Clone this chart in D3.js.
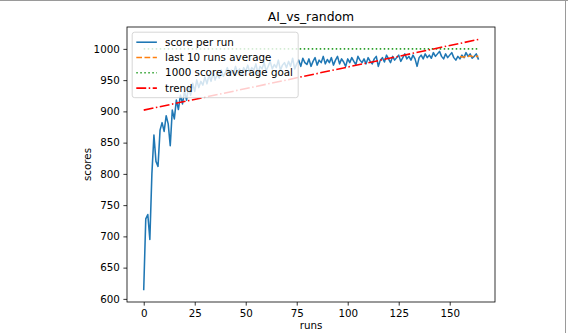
<!DOCTYPE html>
<html>
<head>
<meta charset="utf-8">
<script src="https://cdn.jsdelivr.net/npm/d3@7/dist/d3.min.js"></script>
<style>
  html, body { margin: 0; padding: 0; background: #fff; }
  svg { display: block; font-family: "DejaVu Sans", sans-serif; }
</style>
</head>
<body>
<svg id="chart" width="568" height="333"></svg>
<script>
// ---- data ----
const scores = [
  615, 728, 735, 695, 800, 862, 820, 812, 870, 882,
  868, 893, 880, 845, 902, 888, 918, 903, 926, 912,
  932, 918, 940, 926, 945, 932, 950, 938, 948, 942,
  955, 944, 958, 948, 962, 950, 960, 953, 966, 956,
  962, 970, 958, 966, 960, 972, 962, 968, 958, 970,
  964, 974, 962, 970, 966, 976, 960, 972, 968, 978,
  965, 972, 980, 968, 975, 970, 982, 966, 974, 978,
  970, 980, 972, 985, 968, 976, 982, 972, 985, 978,
  975, 984, 972, 980, 986, 974, 982, 978, 988, 976,
  983, 978, 986, 974, 982, 988, 976, 984, 979, 972,
  984, 978, 986, 980, 975, 988, 982, 978, 984, 976,
  986, 980, 976, 984, 988, 972, 982, 986, 979, 990,
  984, 978, 988, 982, 986, 990, 980, 986, 992, 984,
  988, 982, 990, 984, 972, 986, 990, 984, 992, 986,
  990, 985, 994, 988, 992, 996, 988, 984, 992, 986,
  990, 994, 986, 982, 988, 984, 990, 986, 994, 988,
  992, 985, 988, 992, 984
];
const last10Start = 155;
const last10Avg = [988, 987, 987, 988, 988, 989, 988, 987, 988, 988];
const goal = 1000;
const trendX = [0, 164];
const trendY = [902, 1015];
const xTicks = [0, 25, 50, 75, 100, 125, 150];
const yTicks = [600, 650, 700, 750, 800, 850, 900, 950, 1000];
const legendLabels = ["score per run", "last 10 runs average", "1000 score average goal", "trend"];
const titleText = "AI_vs_random";
const xLabel = "runs";
const yLabel = "scores";

// ---- layout ----
const W = 568, H = 333;
const L = 127, R = 495, T = 27, B = 302;
const fs = 10.3;
const svg = d3.select("#chart");

// outer frame (screenshot edge)
svg.append("line").attr("x1", 0).attr("x2", W).attr("y1", 0.5).attr("y2", 0.5)
  .attr("stroke", "#9a9a9a").attr("stroke-width", 1);
svg.append("line").attr("x1", 565.5).attr("x2", 565.5).attr("y1", 0).attr("y2", H)
  .attr("stroke", "#9a9a9a").attr("stroke-width", 1);

const x = d3.scaleLinear().domain([-8.2, 172.2]).range([L, R]);
const y = d3.scaleLinear().domain([595, 1035]).range([B, T]);

const styles = [
  { color: "#1f77b4", dash: null },
  { color: "#ff7f0e", dash: "5.7,2.5" },
  { color: "#2ca02c", dash: "1.5,2.5" },
  { color: "#ff0000", dash: "9.9,2.5,1.5,2.5" }
];

const plot = svg.append("g");
plot.append("clipPath").attr("id", "clip").append("rect")
  .attr("x", L).attr("y", T).attr("width", R - L).attr("height", B - T);
const g = plot.append("g").attr("clip-path", "url(#clip)");

const line = d3.line().x(d => x(d[0])).y(d => y(d[1]));

g.append("path")
  .datum(scores.map((v, i) => [i, v]))
  .attr("d", line).attr("fill", "none")
  .attr("stroke", styles[0].color).attr("stroke-width", 1.55)
  .attr("stroke-linejoin", "round").attr("stroke-linecap", "square");

g.append("path")
  .datum(last10Avg.map((v, i) => [last10Start + i, v]))
  .attr("d", line).attr("fill", "none")
  .attr("stroke", styles[1].color).attr("stroke-width", 1.55)
  .attr("stroke-dasharray", styles[1].dash);

g.append("path")
  .datum(scores.map((v, i) => [i, goal]))
  .attr("d", line).attr("fill", "none")
  .attr("stroke", styles[2].color).attr("stroke-width", 1.55)
  .attr("stroke-dasharray", styles[2].dash);

g.append("path")
  .datum(trendX.map((v, i) => [v, trendY[i]]))
  .attr("d", line).attr("fill", "none")
  .attr("stroke", styles[3].color).attr("stroke-width", 1.55)
  .attr("stroke-dasharray", styles[3].dash);

// axes
const xAxis = d3.axisBottom(x).tickValues(xTicks).tickFormat(d3.format("d")).tickSize(3.6).tickPadding(3.6);
const yAxis = d3.axisLeft(y).tickValues(yTicks).tickFormat(d3.format("d")).tickSize(3.6).tickPadding(3.6);
const gx = svg.append("g").attr("transform", `translate(0,${B})`).call(xAxis);
const gy = svg.append("g").attr("transform", `translate(${L},0)`).call(yAxis);
[gx, gy].forEach(a => {
  a.select(".domain").remove();
  a.selectAll("line").attr("stroke", "#000").attr("stroke-width", 0.8);
  a.selectAll("text").attr("font-size", fs).attr("fill", "#000")
    .attr("font-family", "DejaVu Sans, sans-serif");
});

// spines
svg.append("rect").attr("x", L).attr("y", T).attr("width", R - L).attr("height", B - T)
  .attr("fill", "none").attr("stroke", "#000").attr("stroke-width", 0.8);

// title and labels
svg.append("text").attr("x", (L + R) / 2).attr("y", 21).attr("text-anchor", "middle")
  .attr("font-size", 12.4).text(titleText);
svg.append("text").attr("x", (L + R) / 2).attr("y", 329).attr("text-anchor", "middle")
  .attr("font-size", fs).text(xLabel);
svg.append("text").attr("transform", `translate(91,${(T + B) / 2}) rotate(-90)`)
  .attr("text-anchor", "middle").attr("font-size", fs).text(yLabel);

// legend
const lg = svg.append("g").attr("transform", `translate(${L + 5.2},${T + 5.2})`);
const rowH = 15.3;
lg.append("rect").attr("x", 0).attr("y", 0).attr("width", 166).attr("height", 65.5)
  .attr("rx", 2.5).attr("fill", "#fff").attr("fill-opacity", 0.8)
  .attr("stroke", "#cccccc").attr("stroke-width", 0.8);
legendLabels.forEach((lab, i) => {
  const cy = 10 + i * rowH;
  lg.append("line").attr("x1", 4.1).attr("x2", 24.7).attr("y1", cy).attr("y2", cy)
    .attr("stroke", styles[i].color).attr("stroke-width", 1.55)
    .attr("stroke-dasharray", styles[i].dash);
  lg.append("text").attr("x", 32.9).attr("y", cy + 3.7).attr("font-size", fs).text(lab);
});
</script>
</body>
</html>
